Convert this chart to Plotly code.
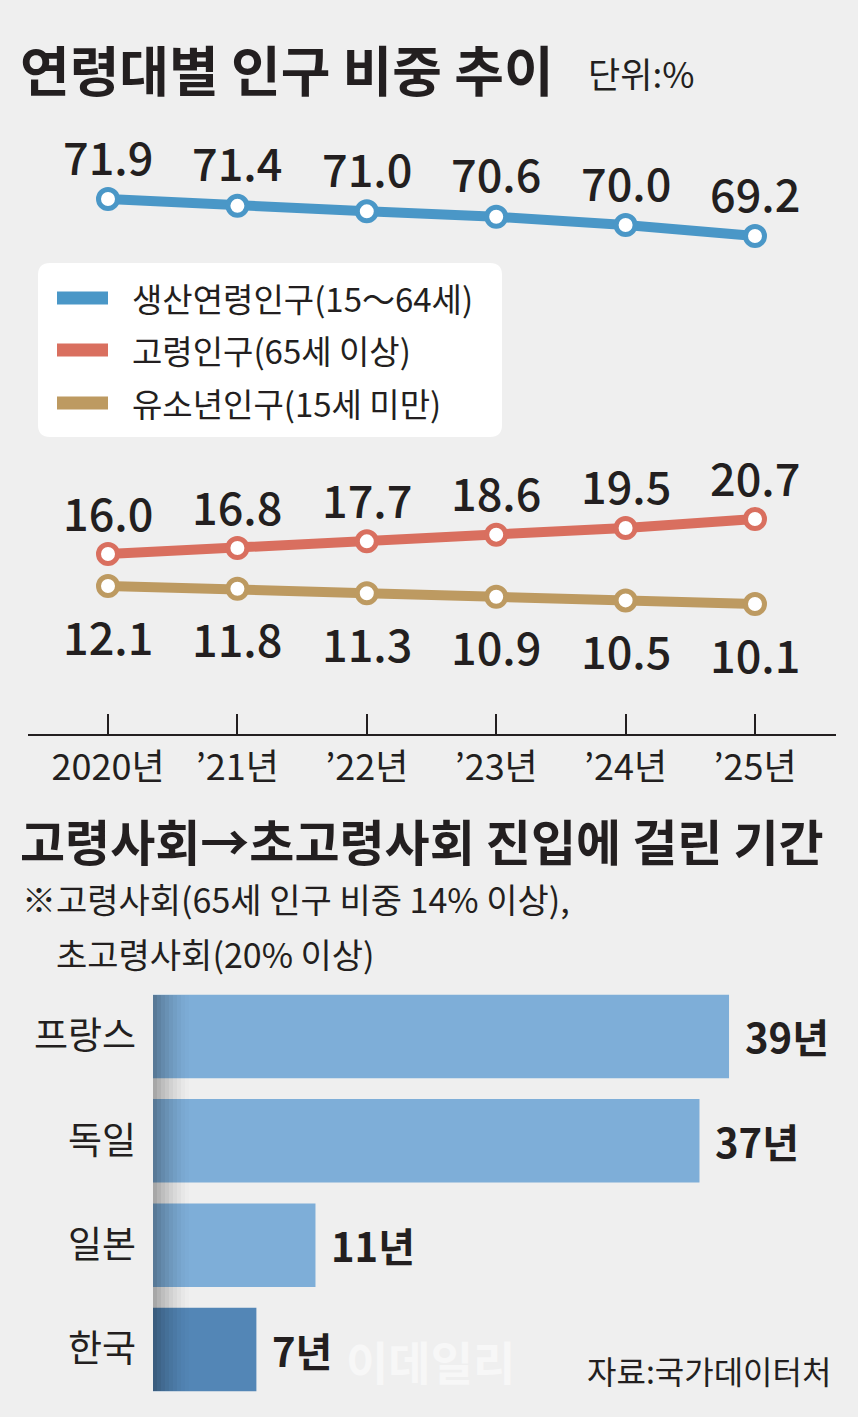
import plotly.graph_objects as go

# ---------------- data ----------------
years = ['2020년', '’21년', '’22년', '’23년', '’24년', '’25년']
working_age = [71.9, 71.4, 71.0, 70.6, 70.0, 69.2]
elderly = [16.0, 16.8, 17.7, 18.6, 19.5, 20.7]
youth = [12.1, 11.8, 11.3, 10.9, 10.5, 10.1]
series_names = ['생산연령인구(15～64세)', '고령인구(65세 이상)', '유소년인구(15세 미만)']

countries = ['프랑스', '독일', '일본', '한국']
years_taken = [39, 37, 11, 7]

# ---------------- style ----------------
W, H = 858, 1417
BG = '#efefef'
INK = '#231f20'
BLUE = '#4a97c7'
RED = '#d96f5f'
TAN = '#bd9a61'
BAR = '#7eaed8'
BAR_KR = '#5386b6'
KR = 'Noto Sans CJK KR'
NUM = 'Noto Sans CJK KR'


def py(p):
    return 1 - p / H


def px(p):
    return p / W


def y_range(v1, p1, v2, p2, top, bot):
    s = (p2 - p1) / (v2 - v1)
    return [v1 + (bot - p1) / s, v1 + (top - p1) / s]


PLOT_TOP, PLOT_BOT = 120, 734
step = (755 - 108) / 5
x_rng = [(28 - 108) / step, (836 - 108) / step]

fig = go.Figure()

for vals, col, ax in [(working_age, BLUE, 'y'), (elderly, RED, 'y2'), (youth, TAN, 'y3')]:
    fig.add_trace(go.Scatter(
        x=years, y=vals, xaxis='x', yaxis=ax, mode='lines+markers',
        line=dict(color=col, width=10),
        marker=dict(size=19, color='white', line=dict(color=col, width=5)),
        cliponaxis=False, showlegend=False, hoverinfo='skip'))

fig.add_trace(go.Bar(
    y=countries, x=years_taken, orientation='h', xaxis='x2', yaxis='y4',
    marker=dict(color=[BAR, BAR, BAR, BAR_KR], line=dict(width=0)),
    showlegend=False, hoverinfo='skip'))

ann = []
# data labels
for vals, ax, shift in [(working_age, 'y', 44), (elderly, 'y2', 43), (youth, 'y3', -49)]:
    for xv, v in zip(years, vals):
        ann.append(dict(x=xv, y=v, xref='x', yref=ax, text=f'{v:.1f}', showarrow=False,
                        yshift=shift, xanchor='center', yanchor='middle',
                        font=dict(family=NUM, size=45, color=INK, weight=500)))
# bar labels
for c, v in zip(countries, years_taken):
    ann.append(dict(x=v, y=c, xref='x2', yref='y4', text=f'<b>{v}년</b>', showarrow=False,
                    xanchor='left', yanchor='middle', xshift=14,
                    font=dict(family=NUM, size=40, color=INK)))

# titles & notes
ann += [
    dict(x=px(18), y=py(68), xref='paper', yref='paper', text='<b>연령대별 인구 비중 추이</b>',
         showarrow=False, xanchor='left', yanchor='middle', font=dict(family=KR, size=54, color=INK)),
    dict(x=px(586), y=py(72), xref='paper', yref='paper', text='단위:%',
         showarrow=False, xanchor='left', yanchor='middle', font=dict(family=NUM, size=35, color=INK)),
    dict(x=px(18), y=py(839), xref='paper', yref='paper', text='<b>고령사회→초고령사회 진입에 걸린 기간</b>',
         showarrow=False, xanchor='left', yanchor='middle', font=dict(family=KR, size=49, color=INK)),
    dict(x=px(20), y=py(898), xref='paper', yref='paper', text='※고령사회(65세 인구 비중 14% 이상),',
         showarrow=False, xanchor='left', yanchor='middle', font=dict(family=NUM, size=34, color=INK)),
    dict(x=px(54), y=py(953), xref='paper', yref='paper', text='초고령사회(20% 이상)',
         showarrow=False, xanchor='left', yanchor='middle', font=dict(family=NUM, size=34, color=INK)),
    dict(x=px(833), y=py(1370), xref='paper', yref='paper', text='자료:국가데이터처',
         showarrow=False, xanchor='right', yanchor='middle', font=dict(family=KR, size=32, color=INK)),
    dict(x=px(430), y=py(1360), xref='paper', yref='paper', text='<b>이데일리</b>',
         showarrow=False, xanchor='center', yanchor='middle',
         font=dict(family=KR, size=46, color='rgba(255,255,255,0.5)')),
]

# manual legend
shapes = []
r = 12
x0, x1, y0, y1 = px(38), px(502), py(263), py(437)
rx, ry = r / W, r / H
path = (f'M {x0+rx},{y0} L {x1-rx},{y0} Q {x1},{y0} {x1},{y0-ry} '
        f'L {x1},{y1+ry} Q {x1},{y1} {x1-rx},{y1} L {x0+rx},{y1} Q {x0},{y1} {x0},{y1+ry} '
        f'L {x0},{y0-ry} Q {x0},{y0} {x0+rx},{y0} Z')
shapes.append(dict(type='path', path=path, xref='paper', yref='paper',
                   fillcolor='white', line=dict(width=0), layer='below'))
for name, col, yc in zip(series_names, [BLUE, RED, TAN], [298, 350, 403]):
    shapes.append(dict(type='rect', xref='paper', yref='paper', x0=px(57), x1=px(108),
                       y0=py(yc - 6.5), y1=py(yc + 6.5), fillcolor=col, line=dict(width=0)))
    ann.append(dict(x=px(130), y=py(yc), xref='paper', yref='paper', text=name, showarrow=False,
                    xanchor='left', yanchor='middle', font=dict(family=NUM, size=33, color=INK)))

# left-edge shading of bar area
n = 9
for i in range(n):
    shapes.append(dict(type='rect', xref='paper', yref='paper',
                       x0=px(153 + i * 4), x1=px(153 + (i + 1) * 4),
                       y0=py(1391), y1=py(995), fillcolor='black',
                       opacity=0.30 * (1 - i / n) ** 1.5, line=dict(width=0), layer='above'))

bar_scale = 14.77
fig.update_layout(
    width=W, height=H, margin=dict(l=0, r=0, t=0, b=0),
    paper_bgcolor=BG, plot_bgcolor=BG,
    font=dict(family=KR, color=INK),
    bargap=0.2,
    xaxis=dict(domain=[px(28), px(836)], range=x_rng, type='category', anchor='y',
               showline=True, linecolor=INK, linewidth=2, ticks='inside', ticklen=20,
               tickwidth=1.5, tickcolor=INK, showgrid=False, zeroline=False,
               tickfont=dict(family=NUM, size=36, color=INK), ticklabelstandoff=1),
    yaxis=dict(domain=[py(PLOT_BOT), py(PLOT_TOP)],
               range=y_range(71.9, 199, 69.2, 236, PLOT_TOP, PLOT_BOT), visible=False),
    yaxis2=dict(overlaying='y', range=y_range(16.0, 554, 20.7, 519, PLOT_TOP, PLOT_BOT), visible=False),
    yaxis3=dict(overlaying='y', range=y_range(12.1, 586, 10.1, 604, PLOT_TOP, PLOT_BOT), visible=False),
    xaxis2=dict(domain=[px(153), 1], range=[0, (W - 153) / bar_scale], anchor='y4', visible=False),
    yaxis4=dict(domain=[py(1401.7), py(984.3)], anchor='x2', autorange='reversed',
                showline=False, ticks='', showgrid=False, zeroline=False,
                tickfont=dict(family=KR, size=37, color=INK), ticklabelstandoff=16),
    annotations=ann, shapes=shapes,
)

fig.write_html('out.html')
